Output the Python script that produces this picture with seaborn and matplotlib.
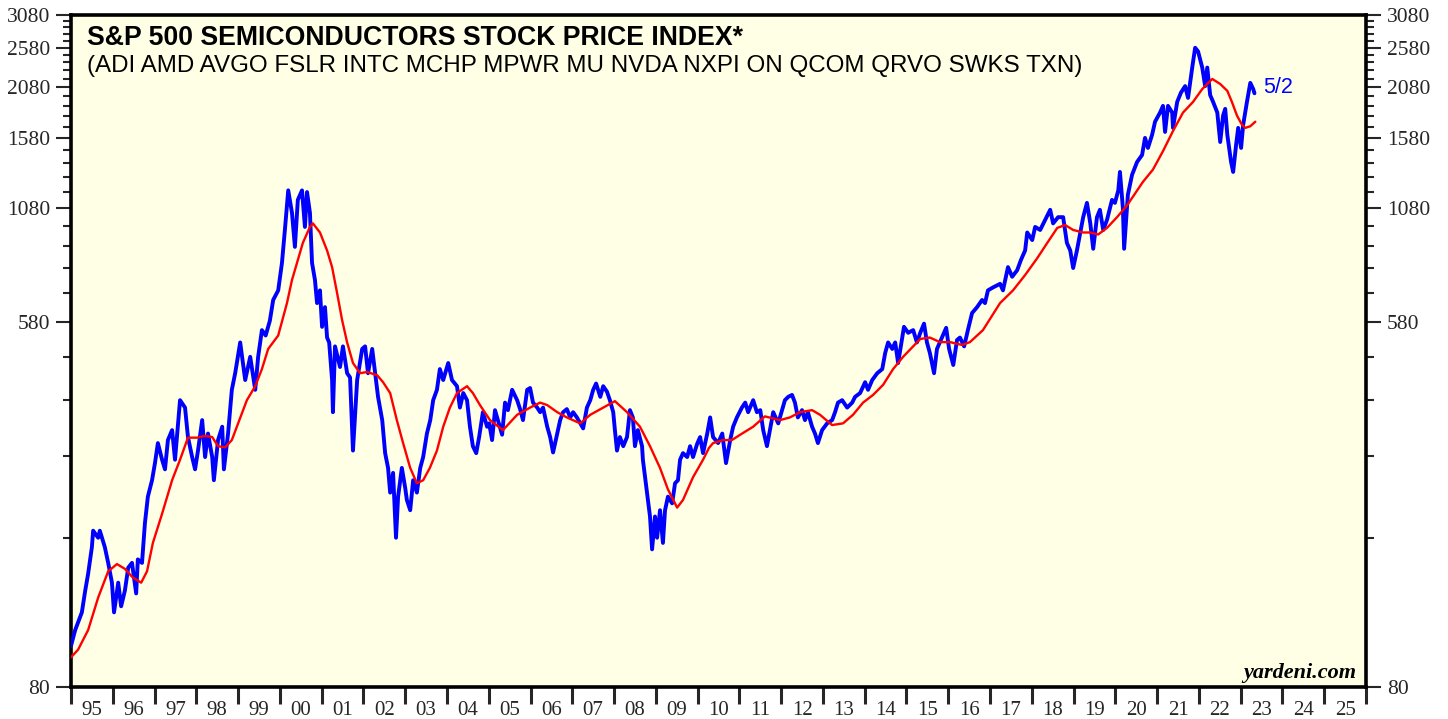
import numpy as np
import pandas as pd
import matplotlib
matplotlib.use("Agg")
import matplotlib.pyplot as plt
import matplotlib.ticker as mticker
import seaborn as sns

# ---------------- data ----------------
index_years = [
    1995.00, 1995.10, 1995.26, 1995.34, 1995.41, 1995.50, 1995.53, 1995.65, 1995.69, 1995.81,
    1995.89, 1995.98, 1996.03, 1996.13, 1996.20, 1996.29, 1996.37, 1996.46, 1996.56, 1996.60,
    1996.70, 1996.77, 1996.84, 1996.94, 1997.01, 1997.08, 1997.18, 1997.25, 1997.32, 1997.42,
    1997.49, 1997.61, 1997.73, 1997.80, 1997.90, 1997.97, 1998.04, 1998.14, 1998.21, 1998.28,
    1998.38, 1998.42, 1998.52, 1998.62, 1998.66, 1998.76, 1998.85, 1998.93, 1999.05, 1999.17,
    1999.29, 1999.41, 1999.48, 1999.57, 1999.66, 1999.76, 1999.84, 1999.96, 2000.05, 2000.12,
    2000.20, 2000.29, 2000.36, 2000.43, 2000.53, 2000.60, 2000.65, 2000.72, 2000.77, 2000.84,
    2000.89, 2000.96, 2001.01, 2001.08, 2001.13, 2001.18, 2001.25, 2001.27, 2001.32, 2001.44,
    2001.51, 2001.61, 2001.68, 2001.75, 2001.85, 2001.97, 2002.04, 2002.11, 2002.21, 2002.28,
    2002.35, 2002.45, 2002.52, 2002.59, 2002.64, 2002.71, 2002.78, 2002.83, 2002.92, 2003.00,
    2003.04, 2003.12, 2003.19, 2003.28, 2003.36, 2003.43, 2003.52, 2003.60, 2003.67, 2003.76,
    2003.83, 2003.91, 2004.00, 2004.03, 2004.12, 2004.24, 2004.31, 2004.39, 2004.48, 2004.55,
    2004.62, 2004.70, 2004.77, 2004.86, 2004.96, 2005.01, 2005.08, 2005.15, 2005.22, 2005.32,
    2005.39, 2005.46, 2005.56, 2005.68, 2005.75, 2005.82, 2005.92, 2005.99, 2006.06, 2006.16,
    2006.23, 2006.30, 2006.40, 2006.47, 2006.54, 2006.64, 2006.71, 2006.78, 2006.87, 2006.95,
    2007.02, 2007.11, 2007.19, 2007.26, 2007.35, 2007.43, 2007.50, 2007.57, 2007.67, 2007.74,
    2007.83, 2007.90, 2007.98, 2008.02, 2008.07, 2008.14, 2008.22, 2008.31, 2008.38, 2008.45,
    2008.50, 2008.57, 2008.67, 2008.69, 2008.79, 2008.86, 2008.91, 2008.98, 2009.03, 2009.10,
    2009.17, 2009.22, 2009.29, 2009.39, 2009.46, 2009.53, 2009.58, 2009.65, 2009.75, 2009.82,
    2009.89, 2009.99, 2010.06, 2010.13, 2010.23, 2010.30, 2010.37, 2010.49, 2010.59, 2010.68,
    2010.78, 2010.85, 2010.94, 2011.06, 2011.14, 2011.21, 2011.33, 2011.42, 2011.50, 2011.57,
    2011.66, 2011.73, 2011.81, 2011.93, 2012.02, 2012.09, 2012.17, 2012.26, 2012.33, 2012.40,
    2012.50, 2012.57, 2012.64, 2012.74, 2012.81, 2012.88, 2012.98, 2013.10, 2013.22, 2013.29,
    2013.36, 2013.46, 2013.58, 2013.70, 2013.77, 2013.89, 2014.01, 2014.08, 2014.18, 2014.30,
    2014.42, 2014.49, 2014.56, 2014.66, 2014.73, 2014.80, 2014.89, 2014.94, 2015.04, 2015.16,
    2015.25, 2015.33, 2015.42, 2015.49, 2015.56, 2015.66, 2015.73, 2015.85, 2015.95, 2016.02,
    2016.12, 2016.21, 2016.28, 2016.38, 2016.47, 2016.57, 2016.69, 2016.81, 2016.88, 2016.95,
    2017.07, 2017.24, 2017.31, 2017.43, 2017.53, 2017.65, 2017.74, 2017.84, 2017.89, 2018.01,
    2018.08, 2018.20, 2018.32, 2018.44, 2018.51, 2018.63, 2018.75, 2018.84, 2018.92, 2018.99,
    2019.08, 2019.16, 2019.23, 2019.32, 2019.40, 2019.47, 2019.56, 2019.63, 2019.71, 2019.80,
    2019.92, 2019.99, 2020.07, 2020.11, 2020.18, 2020.21, 2020.30, 2020.40, 2020.52, 2020.64,
    2020.71, 2020.78, 2020.88, 2020.95, 2021.07, 2021.14, 2021.19, 2021.26, 2021.36, 2021.38,
    2021.48, 2021.57, 2021.67, 2021.74, 2021.84, 2021.91, 2021.98, 2022.08, 2022.15, 2022.20,
    2022.27, 2022.34, 2022.44, 2022.51, 2022.58, 2022.63, 2022.68, 2022.77, 2022.82, 2022.89,
    2022.94, 2023.01, 2023.06, 2023.15, 2023.23, 2023.30, 2023.33,
]
index_values = [
    100, 109, 120, 135, 148, 171, 187, 180, 187, 171,
    157, 141, 120, 141, 124, 135, 153, 157, 133, 160,
    157, 195, 225, 246, 270, 301, 275, 261, 306, 323,
    275, 380, 365, 311, 279, 261, 289, 341, 279, 317,
    279, 246, 306, 329, 261, 317, 402, 440, 520, 424,
    481, 402, 481, 556, 540, 585, 655, 690, 801, 958,
    1188, 1051, 874, 1128, 1188, 974, 1177, 1051, 801, 730,
    644, 690, 566, 630, 534, 520, 424, 356, 509, 455,
    509, 440, 430, 289, 424, 502, 509, 440, 502, 440,
    387, 341, 285, 263, 230, 256, 180, 225, 263, 236,
    221, 209, 246, 230, 263, 279, 317, 341, 380, 402,
    450, 424, 455, 465, 424, 410, 365, 395, 380, 329,
    296, 285, 311, 356, 329, 335, 306, 360, 341, 315,
    375, 360, 402, 380, 362, 341, 402, 406, 375, 365,
    356, 365, 329, 311, 286, 317, 341, 356, 362, 346,
    356, 346, 335, 326, 365, 380, 402, 416, 387, 410,
    398, 380, 356, 323, 289, 311, 296, 311, 360, 346,
    296, 323, 296, 275, 230, 202, 169, 202, 180, 209,
    175, 209, 225, 217, 242, 246, 275, 285, 279, 296,
    279, 300, 311, 285, 317, 346, 311, 301, 317, 270,
    306, 329, 346, 365, 375, 356, 380, 356, 360, 323,
    296, 323, 356, 335, 360, 380, 387, 391, 375, 346,
    360, 341, 356, 329, 317, 301, 323, 335, 341, 356,
    375, 380, 365, 375, 387, 395, 419, 402, 424, 440,
    450, 491, 520, 502, 520, 465, 527, 566, 548, 556,
    520, 548, 576, 520, 491, 440, 502, 534, 563, 502,
    460, 527, 534, 509, 556, 610, 630, 655, 644, 690,
    701, 715, 690, 783, 743, 770, 814, 857, 945, 907,
    974, 958, 1012, 1069, 993, 1027, 1027, 893, 857, 779,
    857, 945, 1027, 1110, 993, 865, 1027, 1069, 958, 1012,
    1128, 1110, 1188, 1313, 1080, 865, 1160, 1293, 1386, 1440,
    1580, 1496, 1607, 1725, 1813, 1880, 1632, 1880, 1813, 1668,
    1921, 2020, 2093, 1963, 2315, 2578, 2527, 2315, 2093, 2315,
    1993, 1921, 1813, 1545, 1785, 1850, 1607, 1386, 1313, 1520,
    1668, 1496, 1697, 1921, 2130, 2060, 2013,
]

ma_years = [
    1995.00, 1995.17, 1995.41, 1995.65, 1995.89, 1996.10, 1996.29, 1996.48, 1996.68, 1996.82,
    1996.96, 1997.18, 1997.42, 1997.61, 1997.80, 1998.02, 1998.21, 1998.38, 1998.52, 1998.69,
    1998.85, 1999.00, 1999.21, 1999.41, 1999.57, 1999.72, 1999.96, 2000.17, 2000.29, 2000.41,
    2000.55, 2000.72, 2000.79, 2000.96, 2001.13, 2001.25, 2001.37, 2001.49, 2001.61, 2001.75,
    2001.92, 2002.09, 2002.33, 2002.47, 2002.64, 2002.80, 2002.95, 2003.12, 2003.28, 2003.43,
    2003.59, 2003.76, 2003.91, 2004.07, 2004.24, 2004.48, 2004.62, 2004.79, 2005.03, 2005.34,
    2005.68, 2005.99, 2006.23, 2006.40, 2006.64, 2006.87, 2007.19, 2007.43, 2007.74, 2008.02,
    2008.31, 2008.62, 2008.86, 2009.10, 2009.29, 2009.51, 2009.65, 2009.89, 2010.13, 2010.27,
    2010.37, 2010.61, 2010.82, 2011.02, 2011.33, 2011.61, 2011.97, 2012.21, 2012.45, 2012.74,
    2012.93, 2013.22, 2013.48, 2013.72, 2013.96, 2014.20, 2014.44, 2014.68, 2014.92, 2015.16,
    2015.33, 2015.56, 2015.80, 2016.04, 2016.33, 2016.52, 2016.83, 2017.24, 2017.55, 2017.84,
    2018.13, 2018.37, 2018.61, 2018.80, 2018.99, 2019.23, 2019.40, 2019.59, 2019.80, 2020.04,
    2020.28, 2020.66, 2020.90, 2021.14, 2021.38, 2021.62, 2021.86, 2022.08, 2022.32, 2022.51,
    2022.68, 2022.79, 2022.91, 2023.03, 2023.11, 2023.23, 2023.35,
]
ma_values = [
    94, 98, 109, 130, 150, 156, 152, 145, 141, 150,
    175, 205, 246, 275, 310, 310, 313, 311, 296, 294,
    306, 335, 380, 410, 450, 502, 540, 644, 730, 801,
    893, 974, 993, 945, 857, 783, 680, 587, 520, 465,
    440, 443, 435, 419, 395, 341, 301, 263, 242, 246,
    263, 289, 329, 365, 395, 410, 395, 370, 341, 323,
    351, 365, 375, 370, 356, 346, 335, 351, 365, 378,
    356, 329, 296, 263, 234, 212, 221, 250, 275, 293,
    301, 306, 306, 315, 329, 348, 341, 346, 356, 360,
    351, 332, 335, 351, 375, 391, 413, 450, 481, 509,
    530, 534, 521, 521, 513, 521, 556, 644, 690, 750,
    822, 893, 969, 984, 958, 945, 945, 935, 969, 1027,
    1095, 1244, 1330, 1470, 1640, 1813, 1921, 2060, 2176, 2117,
    2040, 1921, 1785, 1697, 1668, 1683, 1725,
]

y_major = [80, 580, 1080, 1580, 2080, 2580, 3080]
y_minor = [180, 280, 380, 480, 680, 780, 880, 980, 1180, 1280, 1380, 1480,
           1680, 1780, 1880, 1980, 2180, 2280, 2380, 2480, 2680, 2780, 2880, 2980]
year_ticks = list(range(1995, 2027))
year_labels = [f"{y % 100:02d}" for y in range(1995, 2026)]

title = "S&P 500 SEMICONDUCTORS STOCK PRICE INDEX*"
subtitle = "(ADI AMD AVGO FSLR INTC MCHP MPWR MU NVDA NXPI ON QCOM QRVO SWKS TXN)"
last_label = "5/2"

# ---------------- plotting ----------------
sns.set_style("ticks")
plt.rcParams["font.family"] = ["Liberation Sans", "DejaVu Sans"]

BLUE = "#0000FF"
RED = "#FF0000"
BG = "#FFFFE5"
SERIF = ["Liberation Serif", "DejaVu Serif"]

fig = plt.figure(figsize=(14.48, 7.19), dpi=100)
ax = fig.add_axes([71 / 1448, 1 - 687 / 719, (1366 - 71) / 1448, (687 - 15) / 719])
ax.set_facecolor(BG)

df_idx = pd.DataFrame({"year": index_years, "value": index_values})
df_ma = pd.DataFrame({"year": ma_years, "value": ma_values})

sns.lineplot(data=df_idx, x="year", y="value", ax=ax, color=BLUE, lw=2.8,
             estimator=None, sort=False, zorder=3)
sns.lineplot(data=df_ma, x="year", y="value", ax=ax, color=RED, lw=1.7,
             estimator=None, sort=False, zorder=4)

ax.set_yscale("log")
ax.set_ylim(80, 3080)
ax.set_xlim(1995, 2026)
ax.set_xlabel("")
ax.set_ylabel("")

# y ticks (both sides)
ax.yaxis.set_major_locator(mticker.FixedLocator(y_major))
ax.yaxis.set_minor_locator(mticker.FixedLocator(y_minor))
ax.yaxis.set_major_formatter(mticker.FixedFormatter([str(v) for v in y_major]))
ax.yaxis.set_minor_formatter(mticker.NullFormatter())
ax.tick_params(axis="y", which="major", length=11, width=1.5, direction="out",
               left=True, right=True, labelleft=True, labelright=True, pad=4,
               labelsize=15.5)
ax.tick_params(axis="y", which="minor", length=5.5, width=1.5, direction="out",
               left=True, right=True)

# x ticks: major ticks at year boundaries, labels centred between them
ax.xaxis.set_major_locator(mticker.FixedLocator(year_ticks))
ax.xaxis.set_major_formatter(mticker.NullFormatter())
ax.xaxis.set_minor_locator(mticker.FixedLocator([y + 0.5 for y in range(1995, 2026)]))
ax.xaxis.set_minor_formatter(mticker.FixedFormatter(year_labels))
ax.tick_params(axis="x", which="major", length=12, width=2.2, direction="out")
ax.tick_params(axis="x", which="minor", length=0, pad=10, labelsize=15)

for lab in ax.get_xticklabels(minor=True) + ax.get_yticklabels():
    lab.set_fontfamily(SERIF)
for t in ax.yaxis.get_major_ticks():
    t.label1.set_fontfamily(SERIF)
    t.label2.set_fontfamily(SERIF)
    t.label2.set_fontsize(15.5)

for s in ax.spines.values():
    s.set_linewidth(2.6)
    s.set_color("black")

# texts
ax.text(16 / 1295, (687 - 45) / 672, title, transform=ax.transAxes,
        fontsize=19.2, fontweight="bold", va="baseline", ha="left", color="black")
ax.text(16 / 1295, (687 - 72) / 672, subtitle, transform=ax.transAxes,
        fontsize=17.4, va="baseline", ha="left", color="black")
ax.text((1356 - 71) / 1295, (687 - 678) / 672, "yardeni.com", transform=ax.transAxes,
        fontsize=16, fontweight="bold", fontstyle="italic", va="baseline", ha="right",
        family=SERIF, color="black")
ax.text(index_years[-1] + 0.2, 2080, last_label, fontsize=15.5, color=BLUE,
        va="center", ha="left")

fig.savefig("out.png", dpi=100, facecolor="white")
